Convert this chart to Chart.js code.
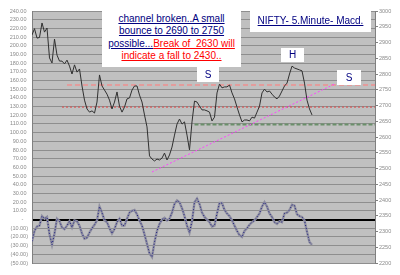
<!DOCTYPE html>
<html>
<head>
<meta charset="utf-8">
<script src="https://cdn.jsdelivr.net/npm/chart.js@4.4.1/dist/chart.umd.min.js"></script>
<style>
  body { margin: 0; background: #fff; }
  #wrap { position: relative; width: 400px; height: 275px; overflow: hidden; }
  .note {
    position: absolute; background: #fff; text-align: center;
    font-family: 'Liberation Sans', Arial, sans-serif; font-size: 10px; color: #000080;
  }
  .note u { text-decoration: underline; }
  .red { color: #ff0000; }
</style>
</head>
<body>
<div id="wrap">
  <canvas id="chart" width="400" height="275"></canvas>
  <div class="note" style="left:102px; top:5px; width:139px; height:62px; line-height:12.3px; padding-top:8px; box-sizing:border-box;">
    <u>channel broken..A small </u><br>
    <u>bounce to 2690 to 2750 </u><br>
    <u>possible...</u><u class="red">Break of&nbsp; 2630 will </u><br>
    <u class="red">indicate a fall to 2430.. </u>
  </div>
  <div class="note" style="left:250px; top:10px; width:121px; height:22px; line-height:22px;"><u>NIFTY- 5.Minute- Macd.</u></div>
  <div class="note" style="left:197px; top:67px; width:22px; height:15px; line-height:15px;">S</div>
  <div class="note" style="left:281px; top:48px; width:23px; height:14px; line-height:14px;">H</div>
  <div class="note" style="left:337px; top:70px; width:24px; height:15px; line-height:15px;">S</div>
</div>
<script>
// Nifty 5 minute closes (right axis)
const priceValues = [
  2924, 2944, 2914, 2916, 2962, 2933, 2946, 2851, 2835, 2911,
  2860, 2841, 2841, 2832, 2844, 2825, 2800, 2829, 2806, 2816,
  2762, 2717, 2689, 2679, 2683, 2676, 2711, 2797, 2762, 2749,
  2736, 2717, 2689, 2711, 2743, 2698, 2679, 2695, 2721, 2724,
  2749, 2762, 2762, 2733, 2711, 2670, 2632, 2540, 2530, 2524,
  2530, 2527, 2533, 2549, 2527, 2543, 2568, 2606, 2641, 2657,
  2641, 2648, 2606, 2559, 2648, 2714, 2711, 2698, 2686, 2686,
  2683, 2679, 2651, 2663, 2740, 2768, 2756, 2759, 2759, 2765,
  2740, 2721, 2695, 2670, 2648, 2654, 2654, 2651, 2663, 2660,
  2679, 2698, 2740, 2752, 2743, 2746, 2736, 2727, 2721, 2730,
  2746, 2762, 2771, 2800, 2825, 2819, 2816, 2813, 2810, 2771,
  2717, 2689, 2670
];

// MACD (left axis)
const macdValues = [
  -25, -13, -8, -7, 4, 1, 3, -17, -29, -16,
  1, -2, -9, -11, -7, -2, -9, -1, -2, -7,
  -16, -22, -21, -15, -10, -6, -1, 15, 8, -1,
  -3, -10, -16, -11, -3, 1, -7, -7, 1, 8,
  10, 11, 6, -1, -7, -17, -28, -39, -43, -26,
  -13, -5, 0, 2, -1, 1, 8, 18, 22, 20,
  13, 4, -7, -15, -2, 20, 24, 18, 8, 3,
  0, -3, -8, -7, 7, 19, 19, 11, 7, 4,
  -1, -7, -13, -18, -20, -13, -10, -6, -3, -1,
  3, 7, 15, 20, 15, 7, 3, -3, -5, -2,
  -3, 7, 8, 11, 17, 16, 6, 4, 3, -1,
  -14, -26, -29
];

// drawn levels and trend line (price units, bar index)
const levelPrices = [2765, 2695, 2640];
const levelStarts = [14, 12, 65];
const trendX = [48, 121];
const trendY = [2489, 2768];

const xMax = 137.2;
const leftMin = -50, leftMax = 240, leftStep = 10;
const rightMin = 2200, rightMax = 3000, rightStep = 50;

const levelColors = ['#ee9090', '#e04848', '#6a8f6a'];
const levelDashes = [[5, 3], [2, 2], [4, 2]];
const levelWidths = [1.5, 1, 2];

function toPoints(values) {
    return values.map((v, i) => ({ x: i, y: v }));
}

// Excel style accounting labels
function leftLabel(v) {
    if (v === 0) return '-   ';
    if (v < 0) return '(' + (-v).toFixed(2) + ')';
    return v.toFixed(2) + ' ';
}

const plotBackground = {
    id: 'plotBackground',
    beforeDraw(chart) {
        const a = chart.chartArea;
        const c = chart.ctx;
        c.save();
        c.fillStyle = '#c0c0c0';
        c.fillRect(a.left, a.top, a.right - a.left, a.bottom - a.top);
        c.restore();
    }
};

const datasets = [];

levelPrices.forEach((p, k) => {
    datasets.push({
        data: [{ x: levelStarts[k], y: p }, { x: xMax, y: p }],
        yAxisID: 'yRight',
        borderColor: levelColors[k],
        borderWidth: levelWidths[k],
        borderDash: levelDashes[k],
        order: 5
    });
});

datasets.push({
    data: trendX.map((x, k) => ({ x: x, y: trendY[k] })),
    yAxisID: 'yRight',
    borderColor: '#ff44ff',
    borderWidth: 1,
    borderDash: [2, 2],
    order: 4
});

datasets.push({
    data: toPoints(macdValues),
    yAxisID: 'yLeft',
    borderColor: '#8f8fa0',
    borderWidth: 2.4,
    order: 3
});

datasets.push({
    data: toPoints(macdValues),
    yAxisID: 'yLeft',
    borderColor: '#1c1c80',
    borderWidth: 1,
    borderDash: [1, 2],
    order: 2
});

datasets.push({
    data: toPoints(priceValues),
    yAxisID: 'yRight',
    borderColor: '#303030',
    borderWidth: 1,
    order: 1
});

const tickFont = { family: "'Liberation Sans', Arial, sans-serif", size: 5.5 };

new Chart(document.getElementById('chart').getContext('2d'), {
    type: 'line',
    data: { datasets: datasets },
    options: {
        responsive: false,
        animation: false,
        layout: { padding: { top: 11, bottom: 12, left: 0, right: 0 } },
        plugins: { legend: { display: false }, tooltip: { enabled: false } },
        elements: { point: { radius: 0 }, line: { tension: 0 } },
        scales: {
            x: { type: 'linear', display: false, min: 0, max: xMax },
            yLeft: {
                position: 'left',
                min: leftMin,
                max: leftMax,
                afterFit: s => { s.width = 32; },
                ticks: { stepSize: leftStep, autoSkip: false, callback: leftLabel, font: tickFont, color: '#8a8a8a', padding: 4 },
                grid: {
                    drawTicks: false,
                    color: c => c.tick && c.tick.value === 0 ? '#000000' : '#8e8e8e',
                    lineWidth: c => c.tick && c.tick.value === 0 ? 2 : 1
                },
                border: { color: '#808080' }
            },
            yRight: {
                position: 'right',
                min: rightMin,
                max: rightMax,
                afterFit: s => { s.width = 25; },
                ticks: { stepSize: rightStep, autoSkip: false, callback: v => String(v), font: tickFont, color: '#8a8a8a', padding: 1 },
                grid: { drawOnChartArea: false, tickLength: 3, color: '#808080' },
                border: { color: '#808080' }
            }
        }
    },
    plugins: [plotBackground]
});
</script>
</body>
</html>
